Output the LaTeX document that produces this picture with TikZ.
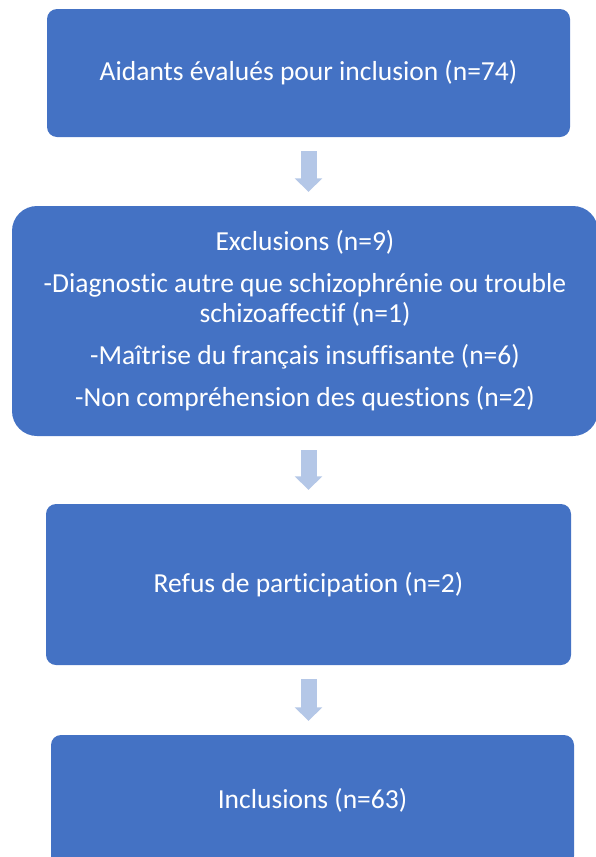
\documentclass[tikz,border=0pt]{standalone}
\usepackage{fontspec}
\setmainfont{Carlito}[Ligatures=NoCommon]
\usetikzlibrary{arrows.meta}
\definecolor{boxblue}{HTML}{4472C4}
\definecolor{arrowblue}{HTML}{B4C7E7}

\begin{document}
\begin{tikzpicture}[x=1pt, y=-1pt]
	\tikzstyle{box}=[fill=boxblue, text=white, inner sep=0pt, align=center, font=\fontsize{27.5}{30}\selectfont, rounded corners=10pt]
	\tikzstyle{down}=[draw=arrowblue, line width=16pt, -{Triangle[width=27pt,length=13.5pt]}, shorten <=14pt, shorten >=14pt]
	\useasboundingbox (0,0) rectangle (595,857);

	% Draw boxes
	\node[box, minimum width=523pt, minimum height=128pt] (eval) at (308.5,73) {Aidants évalués pour inclusion (n=74)};
	\node[box, rounded corners=25pt, minimum width=586pt, minimum height=230pt] (excl) at (305,321) {Exclusions (n=9)\\[12pt] -Diagnostic autre que schizophrénie ou trouble\\ schizoaffectif (n=1)\\[12pt] -Maîtrise du français insuffisante (n=6)\\[12pt] -Non compréhension des questions (n=2)};
	\node[box, minimum width=525pt, minimum height=161pt] (refus) at (308.5,584.5) {Refus de participation (n=2)};
	\node[box, minimum width=523pt, minimum height=131pt] (incl) at (312.5,800.5) {Inclusions (n=63)};

	% Draw arrows
	\draw[down] (eval.south) -- (eval.south |- excl.north);
	\draw[down] (refus.north |- excl.south) -- (refus.north);
	\draw[down] (refus.south) -- (refus.south |- incl.north);
\end{tikzpicture}
\end{document}
